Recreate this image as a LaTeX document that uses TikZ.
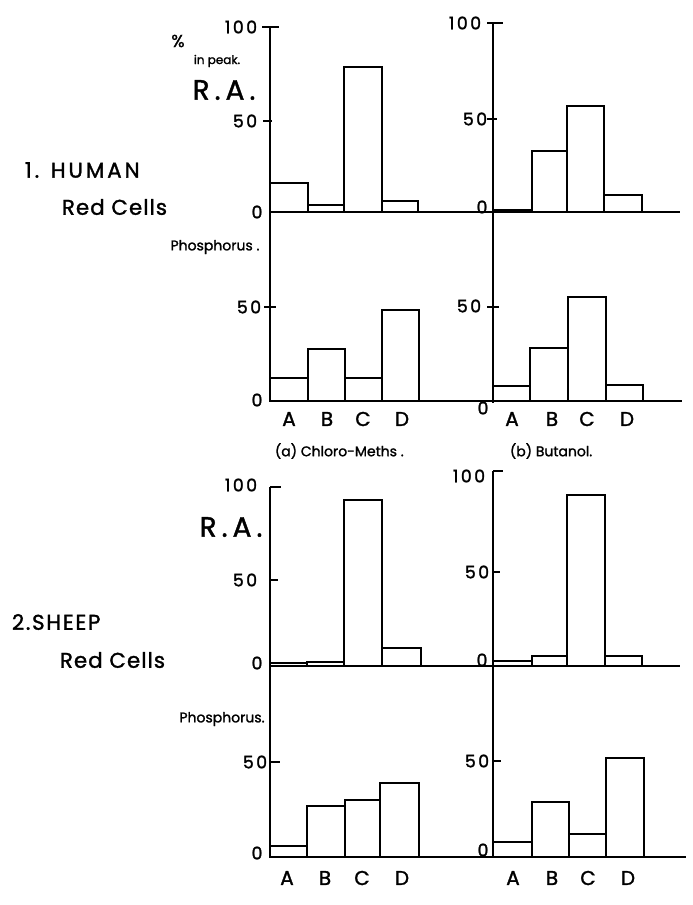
\documentclass[tikz,border=0pt]{standalone}
\usepackage{fontspec}
\setmainfont{Poppins}[FakeBold=1.5]

\tikzset{every picture/.style={line width=1.4pt}}
\tikzset{
	numlbl/.style={inner sep=0.75pt, font=\fontsize{13}{15}\selectfont\addfontfeature{LetterSpace=14}},
	catlbl/.style={inner sep=0.75pt, font=\fontsize{15}{17}\selectfont},
	ralbl/.style={inner sep=0.75pt, font=\fontsize{21}{24}\selectfont\addfontfeature{LetterSpace=18}},
	grouplbl/.style={anchor=west, inner sep=0.75pt, font=\fontsize{16}{18}\selectfont\addfontfeature{LetterSpace=5}},
	smalllbl/.style={inner sep=0.75pt, font=\fontsize{10.5}{12}\selectfont},
}

\begin{document}
\begin{tikzpicture}[x=0.75pt,y=0.75pt,yscale=-1,xscale=1]
	\useasboundingbox (0,0) rectangle (692,905);
	
	%%%%% 1. HUMAN %%%%%
	%Straight Lines [axes]
	\draw (270,27) -- (270,401) ;
	\draw (493,23) -- (493,403) ;
	\draw (270,212) -- (680,212) ;
	\draw (270,401) -- (682,401) ;
	%Straight Lines [ticks]
	\draw (262,27) -- (279,27) ;
	\draw (263,121) -- (272,121) ;
	\draw (264,307) -- (276,307) ;
	\draw (487,23) -- (503,23) ;
	\draw (487,119) -- (497,119) ;
	\draw (487,307) -- (499,307) ;
	
	%Shape: Rectangle [R.A., chloro-meths]
	\draw (270,212) rectangle (308,183) ;
	\draw (308,212) rectangle (344,205) ;
	\draw (344,212) rectangle (382,67) ;
	\draw (382,212) rectangle (418,201) ;
	%Shape: Rectangle [R.A., butanol]
	\draw (493,212) rectangle (532,210) ;
	\draw (532,212) rectangle (567,151) ;
	\draw (567,212) rectangle (604,106) ;
	\draw (604,212) rectangle (642,195) ;
	%Shape: Rectangle [phosphorus, chloro-meths]
	\draw (270,401) rectangle (308,378) ;
	\draw (308,401) rectangle (345,349) ;
	\draw (345,401) rectangle (382,378) ;
	\draw (382,401) rectangle (419,310) ;
	%Shape: Rectangle [phosphorus, butanol]
	\draw (493,401) rectangle (530,386) ;
	\draw (530,401) rectangle (568,348) ;
	\draw (568,401) rectangle (606,297) ;
	\draw (606,401) rectangle (643,385) ;
	
	% Text Node
	\node (hum) [grouplbl, font=\fontsize{16}{18}\selectfont\addfontfeature{LetterSpace=14}] at (23,170) {1. HUMAN};
	% Text Node
	\node (humcells) [grouplbl] at (60,207) {Red Cells};
	% Text Node
	\node (humpct) [smalllbl, font=\fontsize{13}{15}\selectfont] at (178,41) {\%};
	% Text Node
	\node (humpeak) [smalllbl, font=\fontsize{9}{11}\selectfont] at (217,61) {in peak.};
	% Text Node
	\node (humra) [ralbl] at (224,90) {R.A.};
	% Text Node
	\node (humphos) [smalllbl] at (215,247) {Phosphorus .};
	% Text Node
	\node (ha100) [numlbl] at (241,27) {100};
	\node (ha50) [numlbl] at (245,121) {50};
	\node (ha0) [numlbl] at (257,212) {0};
	\node (hap50) [numlbl] at (249,307) {50};
	\node (hap0) [numlbl] at (257,400) {0};
	\node (hb100) [numlbl] at (465,23) {100};
	\node (hb50) [numlbl] at (475,119) {50};
	\node (hb0) [numlbl] at (482,207) {0};
	\node (hbp50) [numlbl] at (469,306) {50};
	\node (hbp0) [numlbl] at (483,408) {0};
	% Text Node
	\node (haA) [catlbl] at (289,419) {A};
	\node (haB) [catlbl] at (327,419) {B};
	\node (haC) [catlbl] at (363,419) {C};
	\node (haD) [catlbl] at (402,419) {D};
	\node (hbA) [catlbl] at (512,419) {A};
	\node (hbB) [catlbl] at (552,419) {B};
	\node (hbC) [catlbl] at (587,419) {C};
	\node (hbD) [catlbl] at (627,419) {D};
	% Text Node
	\node (solva) [smalllbl, anchor=west] at (273,451) {(a) Chloro-Meths .};
	% Text Node
	\node (solvb) [smalllbl, anchor=west] at (508,451) {(b) Butanol.};
	
	%%%%% 2. SHEEP %%%%%
	%Straight Lines [axes]
	\draw (270,487) -- (270,857) ;
	\draw (493,471) -- (493,857) ;
	\draw (270,666) -- (680,666) ;
	\draw (270,857) -- (686,857) ;
	%Straight Lines [ticks]
	\draw (270,487) -- (281,487) ;
	\draw (270,580) -- (278,580) ;
	\draw (270,762) -- (280,762) ;
	\draw (493,471) -- (503,471) ;
	\draw (493,572) -- (500,572) ;
	\draw (493,761) -- (501,761) ;
	
	%Shape: Rectangle [R.A., chloro-meths]
	\draw (270,666) rectangle (307,663) ;
	\draw (307,666) rectangle (344,662) ;
	\draw (344,666) rectangle (382,500) ;
	\draw (382,666) rectangle (421,648) ;
	%Shape: Rectangle [R.A., butanol]
	\draw (493,666) rectangle (532,661) ;
	\draw (532,666) rectangle (567,656) ;
	\draw (567,666) rectangle (605,495) ;
	\draw (605,666) rectangle (642,656) ;
	%Shape: Rectangle [phosphorus, chloro-meths]
	\draw (270,857) rectangle (307,846) ;
	\draw (307,857) rectangle (345,806) ;
	\draw (345,857) rectangle (380,800) ;
	\draw (380,857) rectangle (419,783) ;
	%Shape: Rectangle [phosphorus, butanol]
	\draw (493,857) rectangle (532,842) ;
	\draw (532,857) rectangle (569,802) ;
	\draw (569,857) rectangle (606,834) ;
	\draw (606,857) rectangle (644,758) ;
	
	% Text Node
	\node (shp) [grouplbl, font=\fontsize{16}{18}\selectfont\addfontfeature{LetterSpace=8}] at (10,622) {2.SHEEP};
	% Text Node
	\node (shpcells) [grouplbl] at (58,660) {Red Cells};
	% Text Node
	\node (shpra) [ralbl] at (231,527) {R.A.};
	% Text Node
	\node (shpphos) [smalllbl] at (222,719) {Phosphorus.};
	% Text Node
	\node (sa100) [numlbl] at (241,485) {100};
	\node (sa50) [numlbl] at (245,580) {50};
	\node (sa0) [numlbl] at (257,663) {0};
	\node (sap50) [numlbl] at (255,762) {50};
	\node (sap0) [numlbl] at (257,853) {0};
	\node (sb100) [numlbl] at (469,476) {100};
	\node (sb50) [numlbl] at (477,572) {50};
	\node (sb0) [numlbl] at (482,660) {0};
	\node (sbp50) [numlbl] at (477,761) {50};
	\node (sbp0) [numlbl] at (483,850) {0};
	% Text Node
	\node (saA) [catlbl] at (287,878) {A};
	\node (saB) [catlbl] at (325,878) {B};
	\node (saC) [catlbl] at (362,878) {C};
	\node (saD) [catlbl] at (402,878) {D};
	\node (sbA) [catlbl] at (513,878) {A};
	\node (sbB) [catlbl] at (552,878) {B};
	\node (sbC) [catlbl] at (588,878) {C};
	\node (sbD) [catlbl] at (628,878) {D};
	
\end{tikzpicture}
\end{document}
